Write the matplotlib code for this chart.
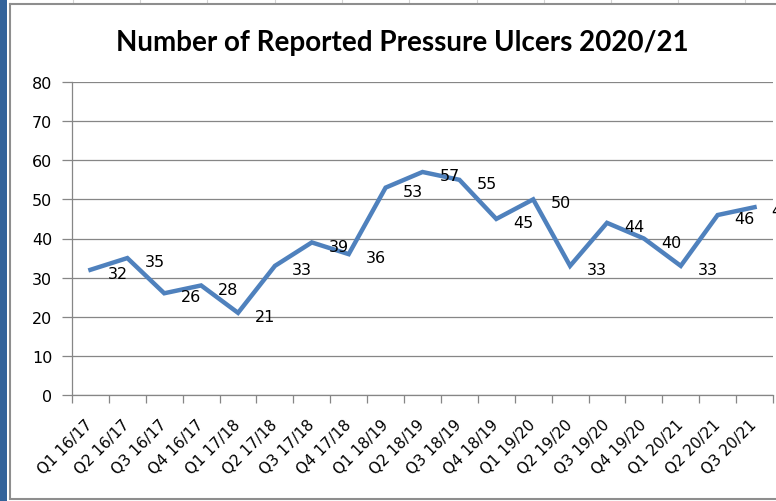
import matplotlib
matplotlib.use("Agg")
import matplotlib.pyplot as plt
from matplotlib.patches import Rectangle
from matplotlib.lines import Line2D

categories = ["Q1 16/17", "Q2 16/17", "Q3 16/17", "Q4 16/17",
              "Q1 17/18", "Q2 17/18", "Q3 17/18", "Q4 17/18",
              "Q1 18/19", "Q2 18/19", "Q3 18/19", "Q4 18/19",
              "Q1 19/20", "Q2 19/20", "Q3 19/20", "Q4 19/20",
              "Q1 20/21", "Q2 20/21", "Q3 20/21"]
values = [32, 35, 26, 28, 21, 33, 39, 36, 53, 57, 55, 45, 50, 33, 44, 40, 33, 46, 48]
yticks = [0, 10, 20, 30, 40, 50, 60, 70, 80]
title = "Number of Reported Pressure Ulcers 2020/21"

W, H = 776, 502
fig = plt.figure(figsize=(W / 100, H / 100), dpi=100)
fig.patch.set_facecolor("white")

# Spreadsheet decoration: blue strip, chart border, faint grid above
fig.add_artist(Rectangle((0, 0), 7.3 / W, 1, transform=fig.transFigure,
                         facecolor="#33639A", edgecolor="none", zorder=0))
for gx in [73, 140, 207, 275, 342, 409, 477, 544, 611, 678, 745]:
    fig.add_artist(Line2D([gx / W, gx / W], [1 - 4 / H, 1], transform=fig.transFigure,
                          color="#D4D4D4", lw=0.8, zorder=0))
fig.add_artist(Line2D([10 / W, 10 / W], [1 - 499 / H, 1 - 4.5 / H], transform=fig.transFigure,
                      color="#8E8E8E", lw=1.5, zorder=1))
fig.add_artist(Line2D([10 / W, 1], [1 - 4.8 / H, 1 - 4.8 / H], transform=fig.transFigure,
                      color="#8E8E8E", lw=1.5, zorder=1))
fig.add_artist(Line2D([10 / W, 1], [1 - 499.5 / H, 1 - 499.5 / H], transform=fig.transFigure,
                      color="#8E8E8E", lw=1.5, zorder=1))

left, right, bottom, top = 72 / W, 773 / W, 1 - 396 / H, 1 - 83 / H
ax = fig.add_axes([left, bottom, right - left, top - bottom])
ax.set_facecolor("none")

x = list(range(len(categories)))
ax.plot(x, values, color="#4F81BD", lw=3.2, solid_joinstyle="miter", zorder=3, clip_on=False)

for xi, v in zip(x, values):
    ax.annotate(str(v), (xi, v), xytext=(12.3, -2.6), textcoords="offset points",
                ha="left", va="center", fontsize=11.5, family="DejaVu Sans",
                color="black", zorder=4, annotation_clip=False)

ax.set_xlim(-0.5, len(categories) - 0.5)
ax.set_ylim(0, 80)
ax.set_yticks(yticks)
ax.set_yticklabels([str(t) for t in yticks], fontsize=11.5, family="DejaVu Sans")
ax.yaxis.grid(True, color="#868686", lw=0.9)
ax.set_axisbelow(True)

ax.set_xticks(x)
ax.set_xticklabels(categories, rotation=45, ha="right", va="center",
                   rotation_mode="anchor", fontsize=11, family="DejaVu Sans")
ax.set_xticks([i - 0.5 for i in range(len(categories) + 1)], minor=True)
ax.tick_params(axis="x", which="major", length=0, pad=19)
ax.tick_params(axis="x", which="minor", length=6, width=0.9, color="#868686", direction="out")
ax.tick_params(axis="y", length=7.2, width=0.9, color="#868686", pad=7)

for s in ["top", "right"]:
    ax.spines[s].set_visible(False)
for s in ["left", "bottom"]:
    ax.spines[s].set_color("#868686")
    ax.spines[s].set_linewidth(0.9)

fig.text(402 / W, 1 - 43 / H, title, ha="center", va="center",
         fontsize=20, fontweight="bold", family="Lato", color="black")

fig.savefig("out.png", dpi=100, facecolor="white")
